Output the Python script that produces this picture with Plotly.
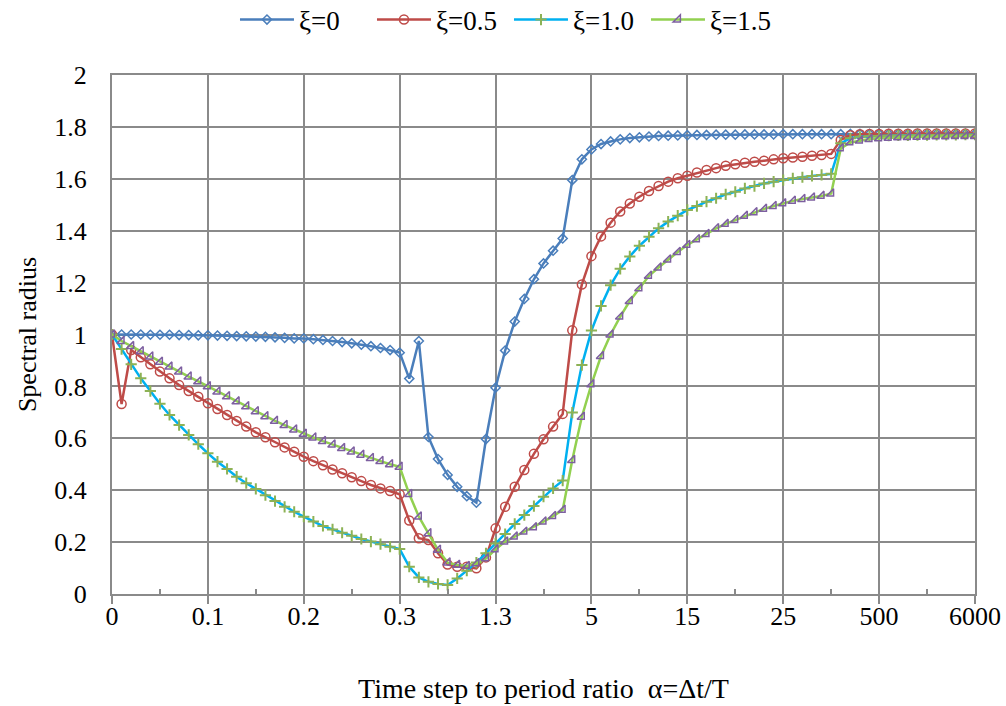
import plotly.graph_objects as go

# Category positions (91 evenly spaced categories) and their labels
tick_positions = [0, 10, 20, 30, 40, 50, 60, 70, 80, 90]
tick_labels = ["0", "0.1", "0.2", "0.3", "1.3", "5", "15", "25", "500", "6000"]
x_index = list(range(91))

xi_0 = [1.0, 1.0, 1.0, 1.0, 0.999, 0.999, 0.999, 0.998, 0.998, 0.997, 0.997,
        0.996, 0.995, 0.994, 0.993, 0.992, 0.991, 0.989, 0.987, 0.985, 0.985,
        0.982, 0.979, 0.975, 0.971, 0.966, 0.961, 0.955, 0.948, 0.94, 0.93,
        0.83, 0.975, 0.605, 0.52, 0.459, 0.413, 0.377, 0.352, 0.597, 0.795,
        0.938, 1.05, 1.137, 1.213, 1.274, 1.323, 1.37, 1.595, 1.675, 1.713,
        1.734, 1.744, 1.752, 1.757, 1.760, 1.763, 1.765, 1.766, 1.767, 1.768,
        1.769, 1.769, 1.770, 1.770, 1.770, 1.771, 1.771, 1.771, 1.771, 1.772,
        1.772, 1.772, 1.772, 1.772, 1.772, 1.772, 1.773, 1.773, 1.773, 1.773,
        1.773, 1.773, 1.773, 1.773, 1.773, 1.773, 1.773, 1.773, 1.773, 1.773]

xi_05 = [1.0, 0.732, 0.94, 0.912, 0.885, 0.857, 0.831, 0.805, 0.782, 0.76, 0.735,
         0.713, 0.69, 0.667, 0.645, 0.623, 0.604, 0.585, 0.565, 0.548, 0.529,
         0.512, 0.496, 0.48, 0.465, 0.45, 0.435, 0.42, 0.407, 0.397, 0.384,
         0.283, 0.215, 0.208, 0.157, 0.114, 0.105, 0.105, 0.099, 0.141, 0.253,
         0.336, 0.413, 0.478, 0.54, 0.596, 0.645, 0.694, 1.016, 1.193, 1.302,
         1.378, 1.431, 1.474, 1.505, 1.531, 1.553, 1.572, 1.589, 1.602, 1.612,
         1.624, 1.634, 1.641, 1.65, 1.656, 1.662, 1.666, 1.67, 1.675, 1.679,
         1.682, 1.685, 1.689, 1.692, 1.696, 1.75, 1.768, 1.772, 1.773, 1.773,
         1.774, 1.774, 1.774, 1.775, 1.775, 1.775, 1.775, 1.775, 1.775, 1.775]

xi_10 = [1.0, 0.944, 0.885, 0.831, 0.782, 0.733, 0.69, 0.651, 0.613, 0.577, 0.542,
         0.51, 0.482, 0.452, 0.427, 0.405, 0.381, 0.358, 0.336, 0.317, 0.298,
         0.279, 0.262, 0.249, 0.236, 0.224, 0.212, 0.202, 0.192, 0.182, 0.173,
         0.105, 0.064, 0.047, 0.039, 0.035, 0.06, 0.09, 0.121, 0.157, 0.195,
         0.231, 0.27, 0.304, 0.339, 0.375, 0.407, 0.437, 0.699, 0.882, 1.015,
         1.11, 1.19, 1.253, 1.301, 1.342, 1.377, 1.409, 1.435, 1.458, 1.48,
         1.495, 1.512, 1.525, 1.54, 1.55, 1.563, 1.572, 1.582, 1.589, 1.595,
         1.602, 1.606, 1.611, 1.615, 1.619, 1.737, 1.756, 1.762, 1.764, 1.765,
         1.766, 1.767, 1.767, 1.768, 1.768, 1.769, 1.769, 1.769, 1.77, 1.77]

xi_15 = [1.0, 0.975, 0.955, 0.935, 0.915, 0.895, 0.876, 0.857, 0.838, 0.819, 0.80,
         0.78, 0.762, 0.742, 0.723, 0.704, 0.685, 0.667, 0.651, 0.634, 0.617,
         0.603, 0.589, 0.576, 0.562, 0.549, 0.536, 0.524, 0.512, 0.5, 0.49,
         0.385, 0.298, 0.234, 0.17, 0.121, 0.112, 0.108, 0.118, 0.137, 0.172,
         0.202, 0.221, 0.24, 0.257, 0.279, 0.3, 0.324, 0.516, 0.683, 0.808,
         0.917, 1.0, 1.069, 1.129, 1.178, 1.226, 1.258, 1.289, 1.318, 1.345,
         1.367, 1.387, 1.409, 1.426, 1.441, 1.457, 1.471, 1.484, 1.495, 1.505,
         1.515, 1.522, 1.528, 1.534, 1.543, 1.717, 1.74, 1.747, 1.753, 1.756,
         1.758, 1.76, 1.761, 1.762, 1.763, 1.764, 1.764, 1.765, 1.765, 1.765]

series_names = ["ξ=0", "ξ=0.5", "ξ=1.0", "ξ=1.5"]
y_ticks = [0, 0.2, 0.4, 0.6, 0.8, 1, 1.2, 1.4, 1.6, 1.8, 2]
y_tick_labels = ["0", "0.2", "0.4", "0.6", "0.8", "1", "1.2", "1.4", "1.6", "1.8", "2"]

FONT = "Liberation Serif"
GRID = "#8a8a8a"
FS = 26

fig = go.Figure()
fig.add_trace(go.Scatter(
    x=x_index, y=xi_0, name=series_names[0], mode="lines+markers",
    line=dict(color="#4A7EBB", width=2.5),
    marker=dict(symbol="diamond-open", size=7, color="#4A7EBB",
                line=dict(width=1.5, color="#4A7EBB"))))
fig.add_trace(go.Scatter(
    x=x_index, y=xi_05, name=series_names[1], mode="lines+markers",
    line=dict(color="#BE4B48", width=2.5),
    marker=dict(symbol="circle-open", size=9, color="#BE4B48",
                line=dict(width=1.5, color="#BE4B48"))))
fig.add_trace(go.Scatter(
    x=x_index, y=xi_10, name=series_names[2], mode="lines+markers",
    line=dict(color="#00B0F0", width=2.5),
    marker=dict(symbol="cross-thin-open", size=8, color="#8DB255",
                line=dict(width=2, color="#8DB255"))))
fig.add_trace(go.Scatter(
    x=x_index, y=xi_15, name=series_names[3], mode="lines+markers",
    line=dict(color="#92D050", width=2.5),
    marker=dict(symbol="triangle-se-open", size=8, color="#7D5FA0",
                line=dict(width=1.5, color="#7D5FA0"))))

fig.update_layout(
    width=1006, height=706,
    margin=dict(l=112, r=31, t=75, b=112, pad=0, autoexpand=False),
    paper_bgcolor="white", plot_bgcolor="white",
    font=dict(family=FONT, size=FS, color="black"),
    showlegend=True,
    legend=dict(orientation="h", x=0.1425, xanchor="left", y=1.106, yanchor="middle",
                font=dict(family=FONT, size=27), itemwidth=54,
                entrywidth=68, entrywidthmode="pixels",
                bgcolor="rgba(0,0,0,0)"),
    xaxis=dict(
        range=[0, 90], tickmode="array", tickvals=tick_positions, ticktext=tick_labels,
        showgrid=True, gridcolor=GRID, gridwidth=2,
        showline=True, linecolor=GRID, linewidth=2, mirror=True,
        ticks="outside", ticklen=8, tickwidth=2, tickcolor=GRID,
        ticklabelstandoff=-10,
        minor=dict(ticks="inside", ticklen=5, tickwidth=2, tickcolor=GRID,
                   tickmode="array", tickvals=[5, 15, 25, 35, 45, 55, 65, 75, 85],
                   showgrid=False),
        zeroline=False,
        tickfont=dict(family=FONT, size=FS),
        title=dict(text="Time step to period ratio  α=Δt/T",
                   font=dict(family=FONT, size=28), standoff=48),
    ),
    yaxis=dict(
        range=[0, 2], tickmode="array", tickvals=y_ticks, ticktext=y_tick_labels,
        showgrid=True, gridcolor=GRID, gridwidth=2,
        showline=True, linecolor=GRID, linewidth=2, mirror=True,
        ticks="", zeroline=False, ticklabelstandoff=18,
        tickfont=dict(family=FONT, size=FS),
        title=dict(text="Spectral radius", font=dict(family=FONT, size=FS), standoff=10),
    ),
)

fig.write_html("out.html")
